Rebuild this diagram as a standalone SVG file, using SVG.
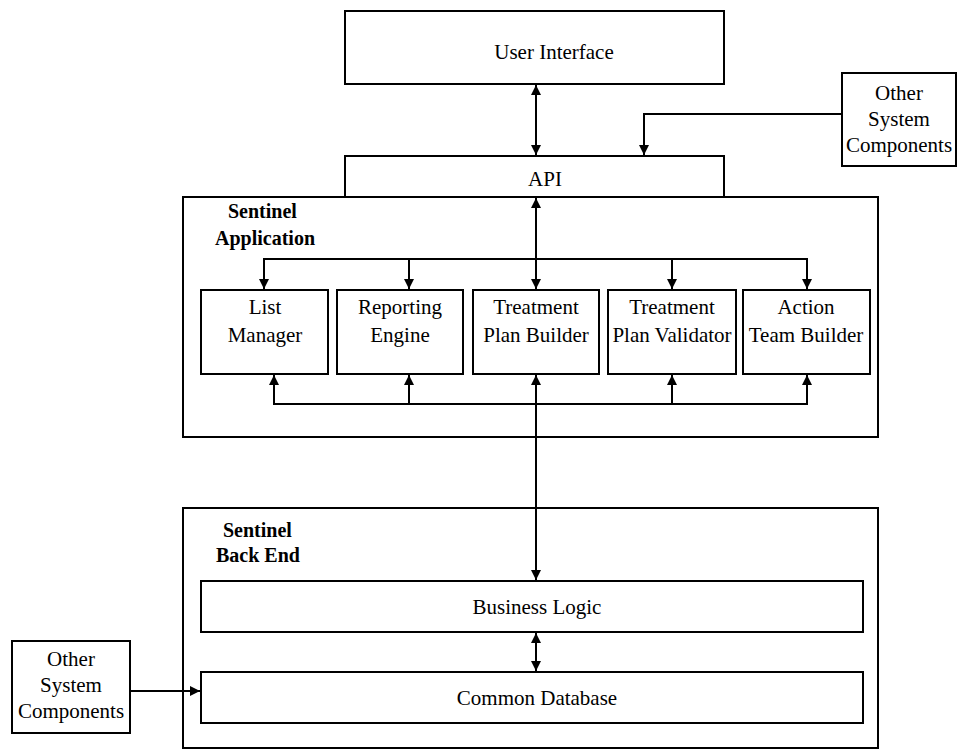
<svg xmlns="http://www.w3.org/2000/svg" width="958" height="751" viewBox="0 0 958 751">
<style>
.box{fill:#fff;stroke:#000;stroke-width:2}
.t{font-family:"Liberation Serif","Times New Roman",serif;font-size:21px;fill:#000;text-anchor:middle}
.b{font-family:"Liberation Serif","Times New Roman",serif;font-size:20px;font-weight:bold;fill:#000}
.c{fill:none;stroke:#000;stroke-width:2}
</style>
<defs>
<marker id="ah" viewBox="0 0 10 10" refX="10" refY="5" markerWidth="5" markerHeight="5" orient="auto-start-reverse" markerUnits="strokeWidth">
<path d="M0,0 L10,5 L0,10 Z" fill="#000"/>
</marker>
</defs>
<rect width="958" height="751" fill="#fff"/>
<g id="user-interface"><rect class="box" x="345" y="11" width="379" height="73"/><text class="t" x="554" y="59">User Interface</text></g>
<g id="other-top"><rect class="box" x="842" y="73" width="114" height="93"/><text class="t" x="899" y="100">Other</text><text class="t" x="899" y="126">System</text><text class="t" x="899" y="152">Components</text></g>
<g id="api"><rect class="box" x="345" y="156" width="379" height="41"/><text class="t" x="545" y="186">API</text></g>
<g id="sentinel-application"><rect class="box" x="183" y="197" width="695" height="240"/><text class="b" x="228" y="218">Sentinel</text><text class="b" x="215" y="245">Application</text></g>
<g id="list-manager"><rect class="box" x="201" y="290" width="127" height="84"/><text class="t" x="265" y="314">List</text><text class="t" x="265" y="342">Manager</text></g>
<g id="reporting-engine"><rect class="box" x="337" y="290" width="126" height="84"/><text class="t" x="400" y="314">Reporting</text><text class="t" x="400" y="342">Engine</text></g>
<g id="treatment-plan-builder"><rect class="box" x="473" y="290" width="126" height="84"/><text class="t" x="536" y="314">Treatment</text><text class="t" x="536" y="342">Plan Builder</text></g>
<g id="treatment-plan-validator"><rect class="box" x="608" y="290" width="128" height="84"/><text class="t" x="672" y="314">Treatment</text><text class="t" x="672" y="342">Plan Validator</text></g>
<g id="action-team-builder"><rect class="box" x="743" y="290" width="127" height="84"/><text class="t" x="806" y="314">Action</text><text class="t" x="806" y="342">Team Builder</text></g>
<g id="sentinel-back-end"><rect class="box" x="183" y="508" width="695" height="240"/><text class="b" x="223" y="537">Sentinel</text><text class="b" x="216" y="562">Back End</text></g>
<g id="business-logic"><rect class="box" x="201" y="581" width="662" height="51"/><text class="t" x="537" y="614">Business Logic</text></g>
<g id="common-database"><rect class="box" x="201" y="672" width="662" height="51"/><text class="t" x="537" y="705">Common Database</text></g>
<g id="other-bottom"><rect class="box" x="12" y="641" width="118" height="92"/><text class="t" x="71" y="666">Other</text><text class="t" x="71" y="692">System</text><text class="t" x="71" y="718">Components</text></g>
<g id="connectors">
<line class="c" x1="536" y1="85" x2="536" y2="155" marker-start="url(#ah)" marker-end="url(#ah)"/>
<polyline class="c" points="842,114 644,114 644,155" marker-end="url(#ah)"/>
<line class="c" x1="536" y1="198" x2="536" y2="289" marker-start="url(#ah)" marker-end="url(#ah)"/>
<line class="c" x1="264" y1="259" x2="807" y2="259"/>
<line class="c" x1="264" y1="258" x2="264" y2="289" marker-end="url(#ah)"/>
<line class="c" x1="409" y1="259" x2="409" y2="289" marker-end="url(#ah)"/>
<line class="c" x1="672" y1="259" x2="672" y2="289" marker-end="url(#ah)"/>
<line class="c" x1="807" y1="258" x2="807" y2="289" marker-end="url(#ah)"/>
<line class="c" x1="274" y1="404" x2="807" y2="404"/>
<line class="c" x1="274" y1="405" x2="274" y2="375" marker-end="url(#ah)"/>
<line class="c" x1="409" y1="404" x2="409" y2="375" marker-end="url(#ah)"/>
<line class="c" x1="672" y1="404" x2="672" y2="375" marker-end="url(#ah)"/>
<line class="c" x1="807" y1="405" x2="807" y2="375" marker-end="url(#ah)"/>
<line class="c" x1="536" y1="375" x2="536" y2="580" marker-start="url(#ah)" marker-end="url(#ah)"/>
<line class="c" x1="536" y1="633" x2="536" y2="671" marker-start="url(#ah)" marker-end="url(#ah)"/>
<line class="c" x1="130" y1="691" x2="200" y2="691" marker-end="url(#ah)"/>
</g>
</svg>
